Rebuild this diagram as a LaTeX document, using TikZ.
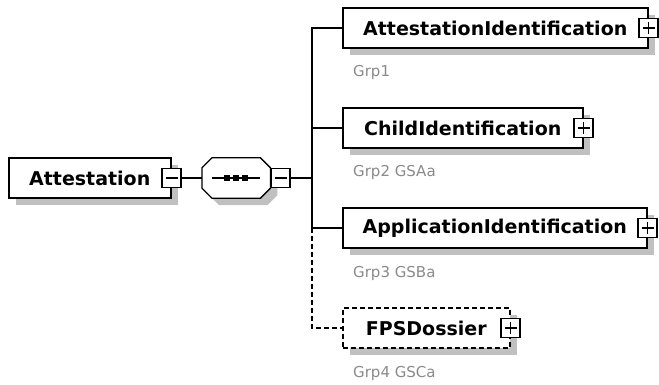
\documentclass[tikz,border=0pt]{standalone}
\usepackage{fontspec}
\setmainfont{DejaVu Sans}
\usetikzlibrary{positioning,shadows,calc}
\definecolor{grpgray}{RGB}{138,138,138}
\definecolor{shadowgray}{RGB}{192,192,192}
\tikzset{
	elem/.style={draw, line width=1.5pt, fill=white, anchor=west, inner sep=0pt,
		minimum height=40pt, font=\bfseries\fontsize{19pt}{22pt}\selectfont,
		drop shadow={shadow xshift=7pt, shadow yshift=-7pt, fill=shadowgray, opacity=1}},
	optelem/.style={elem, dash pattern=on 5pt off 3pt},
	btn/.style={draw, line width=1.3pt, fill=white, minimum size=19pt, inner sep=0pt},
	grp/.style={anchor=west, inner sep=0pt, text=grpgray, font=\fontsize{15pt}{18pt}\selectfont},
	link/.style={line width=1.3pt},
}

\begin{document}
\begin{tikzpicture}[x=1pt, y=-1pt]
				  \useasboundingbox (0,0) rectangle (659,385);
				  %ROOT
				  \node[elem, minimum width=162pt] (att) at (8,178) {Attestation};
				  \node[btn] (attbtn) at (att.east) {};
				  \draw[link] ($(attbtn.center)+(-6,0)$) -- ($(attbtn.center)+(6,0)$);
				  %SEQUENCE
				  \node[minimum width=68pt, minimum height=40pt, inner sep=0pt, anchor=west] (seq) at (202,178) {};
				  \draw[link, fill=white, drop shadow={shadow xshift=7pt, shadow yshift=-7pt, fill=shadowgray, opacity=1}]
				    ($(seq.north west)+(10,0)$) -- ($(seq.north east)+(-10,0)$) -- ($(seq.north east)+(0,10)$)
				    -- ($(seq.south east)+(0,-10)$) -- ($(seq.south east)+(-10,0)$) -- ($(seq.south west)+(10,0)$)
				    -- ($(seq.south west)+(0,-10)$) -- ($(seq.north west)+(0,10)$) -- cycle;
				  \draw[link] ($(seq.west)+(10,0)$) -- ($(seq.east)+(-10,0)$);
				  \foreach \dx in {-9,0,9}
				    \fill ($(seq.center)+(\dx,0)$) ++(-3,-3) rectangle ++(6,6);
				  \node[btn, anchor=west] (seqbtn) at (seq.east) {};
				  \draw[link] ($(seqbtn.center)+(-6,0)$) -- ($(seqbtn.center)+(6,0)$);
				  %CHILDREN
				  \node[elem, minimum width=305pt] (ai) at (342,28) {AttestationIdentification};
				  \node[elem, minimum width=240pt] (ci) at (342,128) {ChildIdentification};
				  \node[elem, minimum width=304pt] (ap) at (342,228) {ApplicationIdentification};
				  \node[optelem, minimum width=167pt] (fps) at (342,328) {FPSDossier};
				  \foreach \n in {ai,ci,ap,fps}{
				    \node[btn] (\n btn) at (\n.east) {};
				    \draw[link] ($(\n btn.center)+(-6,0)$) -- ($(\n btn.center)+(6,0)$);
				    \draw[link] ($(\n btn.center)+(0,-6)$) -- ($(\n btn.center)+(0,6)$);
				  }
				  %GROUPS
				  \node[grp] (g1) at (353,72) {Grp1};
				  \node[grp] (g2) at (353,172) {Grp2 GSAa};
				  \node[grp] (g3) at (353,273) {Grp3 GSBa};
				  \node[grp] (g4) at (353,373) {Grp4 GSCa};
				  %LINKS
				  \coordinate (bus) at (312,178);
				  \draw[link] (attbtn.east) -- (seq.west);
				  \draw[link] (seqbtn.east) -- (bus);
				  \draw[link] (ai.west) -- (ai.west -| bus) -- (ap.west -| bus) -- (ap.west);
				  \draw[link] (ci.west) -- (ci.west -| bus);
				  \draw[link, dash pattern=on 5pt off 3pt] (ap.west -| bus) |- (fps.west);
\end{tikzpicture}
\end{document}
